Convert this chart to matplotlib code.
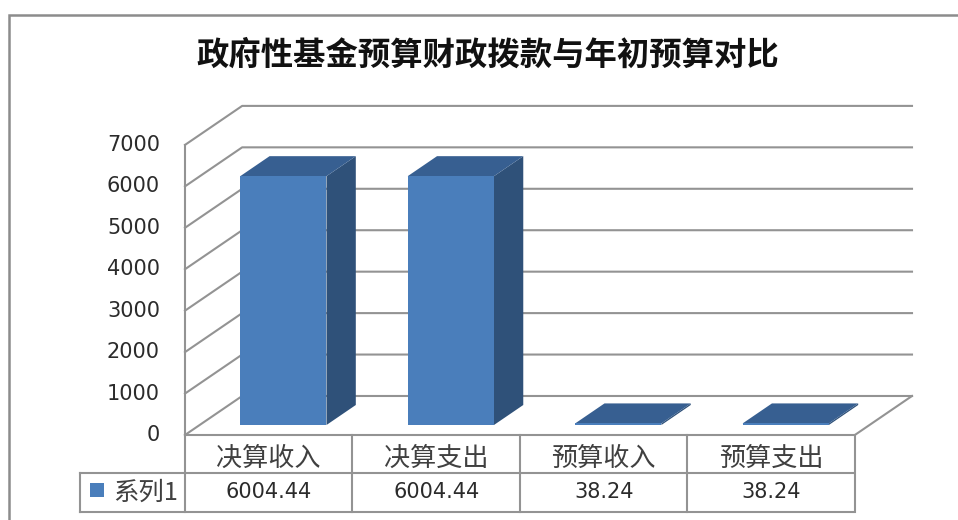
import matplotlib
matplotlib.use('Agg')
import matplotlib.pyplot as plt
from matplotlib.patches import Polygon
from matplotlib.transforms import blended_transform_factory

title = '政府性基金预算财政拨款与年初预算对比'
categories = ['决算收入', '决算支出', '预算收入', '预算支出']
values = [6004.44, 6004.44, 38.24, 38.24]
value_labels = ['6004.44', '6004.44', '38.24', '38.24']
series_name = '系列1'
yticks = [0, 1000, 2000, 3000, 4000, 5000, 6000, 7000]

W, H = 958, 520
CJK = 'Noto Sans CJK SC'
GRID = '#939393'
LW = 1.5

# 3d look: a step into the chart moves right and up
depth_x = 57 / 167        # category units
depth_y = 39 / 0.04143    # value units
bar_w = 0.515
bar_d0, bar_d1 = 0.256, 0.769


def proj(x, v, d=0):
	return (x + d * depth_x, v + d * depth_y)


fig = plt.figure(figsize=(W / 100, H / 100), dpi=100)

# frame axes in pixels, used for frame and text rows
page = fig.add_axes([0, 0, 1, 1])
page.set_xlim(0, W)
page.set_ylim(H, 0)
page.axis('off')

# chart axes: x is category number, y is the value
ax = fig.add_axes([185 / W, (H - 435) / H, (912 - 185) / W, (435 - 105.9) / H])
ax.set_xlim(0, 4 + depth_x)
ax.set_ylim(0, 7000 + depth_y)
ax.axis('off')
ax.patch.set_alpha(0)

page.plot([9.5, 9.5, W], [H, 15, 15], color='#8c8c8c', lw=1.8, solid_joinstyle='miter')
page.text(488, 55, title, family=CJK, weight='bold', fontsize=23.3, color='#111111',
	ha='center', va='center')

# walls and floor
for v in yticks:
	xs, ys = zip(proj(0, v), proj(0, v, 1), proj(4, v, 1))
	ax.plot(xs, ys, color=GRID, lw=LW, clip_on=False, zorder=1)
	page.text(160, 435 - v * 0.04143, str(v), family='DejaVu Sans', fontsize=15, color='#2b2b2b',
		ha='right', va='center')
xs, ys = zip(proj(0, 0), proj(0, 7000))
ax.plot(xs, ys, color=GRID, lw=LW, clip_on=False, zorder=1)
xs, ys = zip(proj(4, 0, 1), proj(4, 0), proj(0, 0))
ax.plot(xs, ys, color=GRID, lw=LW, clip_on=False, zorder=1)

# bars
for i, v in enumerate(values):
	x0 = i + 0.5 - bar_w / 2
	x1 = i + 0.5 + bar_w / 2
	front = [proj(x0, 0, bar_d0), proj(x1, 0, bar_d0), proj(x1, v, bar_d0), proj(x0, v, bar_d0)]
	side = [proj(x1, 0, bar_d0), proj(x1, 0, bar_d1), proj(x1, v, bar_d1), proj(x1, v, bar_d0)]
	top = [proj(x0, v, bar_d0), proj(x1, v, bar_d0), proj(x1, v, bar_d1), proj(x0, v, bar_d1)]
	ax.add_patch(Polygon(side, fc='#2f5179', ec='none', zorder=3))
	ax.add_patch(Polygon(top, fc='#375f91', ec='none', zorder=3))
	ax.add_patch(Polygon(front, fc='#4a7ebb', ec='none', zorder=3))

# data table under the chart, x from the categories, y in pixels
tr = blended_transform_factory(ax.transData, page.transData)
n = len(categories)
for i in range(n + 1):
	ax.plot([i, i], [435, 512], transform=tr, color=GRID, lw=LW, clip_on=False, zorder=2)
for y in (473, 512):
	page.plot([80, 853], [y, y], color=GRID, lw=LW)
page.plot([80, 80], [473, 512], color=GRID, lw=LW)
for i in range(n):
	ax.text(i + 0.5, 458, categories[i], transform=tr, family=CJK, fontsize=18.8, color='#404040',
		ha='center', va='center')
	ax.text(i + 0.5, 492, value_labels[i], transform=tr, family='DejaVu Sans', fontsize=15,
		color='#2b2b2b', ha='center', va='center')

page.add_patch(Polygon([(90, 483), (104, 483), (104, 497), (90, 497)], fc='#4a7ebb', ec='none'))
page.text(113, 493, series_name, family=[CJK, 'DejaVu Sans'], fontsize=18.3, color='#404040',
	ha='left', va='center')

fig.savefig('out.png', dpi=100)
plt.close()
